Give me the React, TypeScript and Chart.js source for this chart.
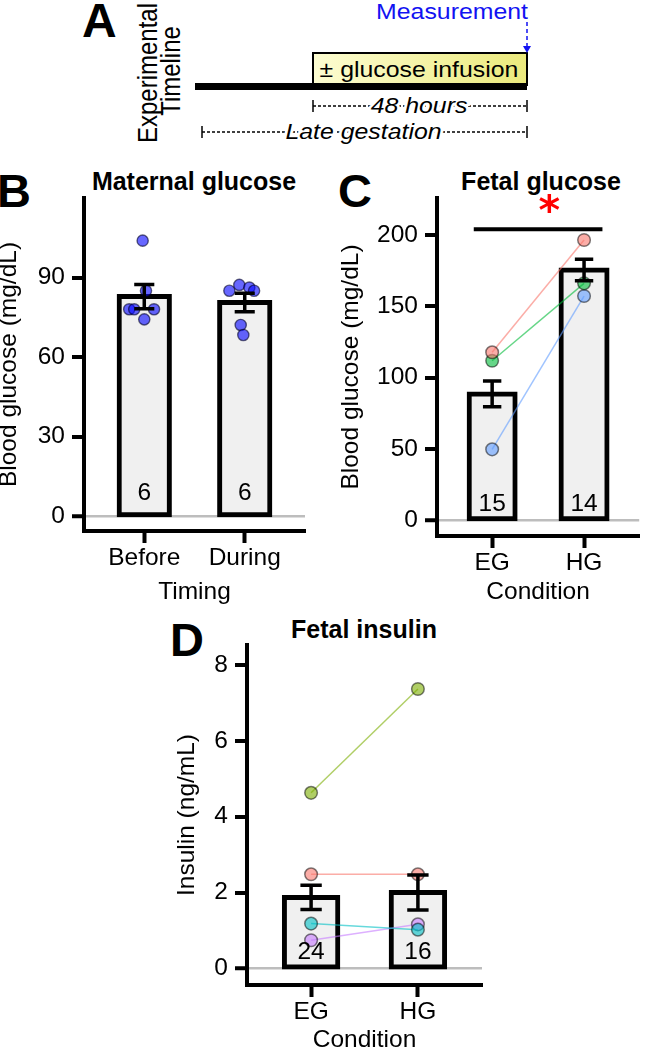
import React, { useEffect, useRef } from 'react';
import { Chart, registerables } from 'chart.js';

Chart.register(...registerables);

const FONT = "'Liberation Sans', Arial, Helvetica, sans-serif";
Chart.defaults.font.family = FONT;
Chart.defaults.color = '#000';

// ---------- Panel B: Maternal glucose ----------
const bCategories = ['Before', 'During'];
const bMeans = [82.8, 80.6];
const bSE = [4.6, 3.5];
const bN = ['6', '6'];
const bBeforeValues = [103.9, 85.0, 78.0, 78.0, 78.0, 74.2];
const bBeforeJitter = [-0.016, 0.017, -0.15, -0.1, 0.097, 0.0];
const bDuringValues = [85.0, 87.2, 86.2, 85.0, 72.1, 68.3];
const bDuringJitter = [-0.153, -0.054, 0.046, 0.093, -0.04, -0.014];
const bYTicks = [0, 30, 60, 90];

// ---------- Panel C: Fetal glucose ----------
const cCategories = ['EG', 'HG'];
const cMeans = [88.5, 175.5];
const cSE = [9.1, 7.5];
const cN = ['15', '14'];
const cPink = [117.7, 196.5];
const cGreen = [111.8, 166.1];
const cBlue = [49.6, 157.2];
const cYTicks = [0, 50, 100, 150, 200];

// ---------- Panel D: Fetal insulin ----------
const dCategories = ['EG', 'HG'];
const dMeans = [1.87, 2.0];
const dSE = [0.32, 0.46];
const dN = ['24', '16'];
const dGreen = [4.63, 7.37];
const dPink = [2.48, 2.48];
const dTeal = [1.18, 1.02];
const dPurple = [0.74, 1.16];
const dYTicks = [0, 2, 4, 6, 8];

const AXIS_FONT = { size: 24.5, family: FONT, lineHeight: 1.2 };

type Sig = { from: number; to: number; y: number; starX: number; starY: number };

type Spec = {
  categories: string[];
  means: number[];
  se: number[];
  n: string[];
  yMin: number;
  yMax: number;
  yTicks: number[];
  yTitle: string;
  xTitle: string;
  extra: any[];
  yAxisWidth: number;
  xAxisHeight: number;
  padTop: number;
  padRight: number;
  yTitlePad: number;
  xTitlePad: number;
  nOffset: number;
  sig?: Sig;
};

function subject(values: number[], rgb: string) {
  return {
    type: 'line',
    data: values.map((v, i) => ({ x: i + 1, y: v })),
    borderColor: `rgba(${rgb},0.6)`,
    borderWidth: 1.5,
    pointRadius: 6.3,
    pointBackgroundColor: `rgba(${rgb},0.6)`,
    pointBorderColor: 'rgba(0,0,0,0.5)',
    pointBorderWidth: 1.5,
    fill: false,
    order: 1,
  };
}

function jittered(values: number[], jitter: number[], cat: number) {
  return {
    type: 'scatter',
    data: values.map((v, i) => ({ x: cat + jitter[i], y: v })),
    pointRadius: 5.6,
    backgroundColor: 'rgba(10,10,255,0.62)',
    borderColor: 'rgba(0,0,40,0.6)',
    borderWidth: 1.4,
    order: 1,
  };
}

function buildConfig(s: Spec): any {
  const overlay = {
    id: 'overlay',
    afterDatasetsDraw(chart: any) {
      const { ctx } = chart;
      const x = chart.scales.x;
      const y = chart.scales.y;
      ctx.save();
      // error bars
      ctx.strokeStyle = '#000';
      ctx.lineWidth = 3.5;
      ctx.lineCap = 'butt';
      s.means.forEach((m, i) => {
        const cx = x.getPixelForValue(i + 1);
        const hw = x.getPixelForValue(i + 1.1) - cx;
        const yt = y.getPixelForValue(m + s.se[i]);
        const yb = y.getPixelForValue(m - s.se[i]);
        ctx.beginPath();
        ctx.moveTo(cx, yt);
        ctx.lineTo(cx, yb);
        ctx.moveTo(cx - hw, yt);
        ctx.lineTo(cx + hw, yt);
        ctx.moveTo(cx - hw, yb);
        ctx.lineTo(cx + hw, yb);
        ctx.stroke();
      });
      // n labels
      ctx.fillStyle = '#000';
      ctx.font = `24.5px ${FONT}`;
      ctx.textAlign = 'center';
      ctx.textBaseline = 'middle';
      s.n.forEach((t, i) => {
        ctx.fillText(t, x.getPixelForValue(i + 1), y.getPixelForValue(0) - s.nOffset);
      });
      // significance bar and asterisk
      if (s.sig) {
        const sg = s.sig;
        ctx.lineWidth = 4;
        ctx.beginPath();
        const sy = y.getPixelForValue(sg.y);
        ctx.moveTo(x.getPixelForValue(sg.from), sy);
        ctx.lineTo(x.getPixelForValue(sg.to), sy);
        ctx.stroke();
        const fam = "'DejaVu Sans'";
        ctx.font = `bold 60px ${fam}`;
        const m1 = ctx.measureText('*');
        const h1 = m1.actualBoundingBoxAscent + m1.actualBoundingBoxDescent;
        const size = 60 * (20 / h1);
        ctx.font = `bold ${size}px ${fam}`;
        const m2 = ctx.measureText('*');
        const cx = x.getPixelForValue(sg.starX);
        const cy = y.getPixelForValue(sg.starY);
        ctx.textAlign = 'left';
        ctx.textBaseline = 'alphabetic';
        ctx.fillStyle = '#ff0000';
        const tx = cx + (m2.actualBoundingBoxLeft - m2.actualBoundingBoxRight) / 2;
        const ty = cy + (m2.actualBoundingBoxAscent - m2.actualBoundingBoxDescent) / 2;
        ctx.fillText('*', tx, ty);
      }
      ctx.restore();
    },
  };

  return {
    type: 'bar',
    data: {
      datasets: [
        {
          type: 'bar',
          data: s.means.map((m, i) => ({ x: i + 1, y: m })),
          backgroundColor: '#f0f0f0',
          borderColor: '#000',
          borderWidth: 5,
          borderSkipped: false,
          inflateAmount: 2.5,
          barPercentage: 0.5,
          categoryPercentage: 1,
          order: 10,
        },
        ...s.extra,
      ],
    },
    options: {
      responsive: false,
      maintainAspectRatio: false,
      animation: false,
      events: [],
      layout: { padding: { top: s.padTop, right: s.padRight, left: 0, bottom: 0 } },
      plugins: { legend: { display: false }, tooltip: { enabled: false }, title: { display: false } },
      scales: {
        x: {
          type: 'linear',
          min: 0.4,
          max: 2.6,
          offset: false,
          afterBuildTicks: (ax: any) => {
            ax.ticks = s.categories.map((_, i) => ({ value: i + 1 }));
          },
          afterFit: (ax: any) => {
            ax.height = s.xAxisHeight;
          },
          ticks: {
            autoSkip: false,
            maxRotation: 0,
            padding: 1,
            color: '#000',
            font: AXIS_FONT,
            callback: (v: number) => s.categories[Math.round(v) - 1] ?? '',
          },
          grid: {
            display: true,
            drawOnChartArea: false,
            drawTicks: true,
            tickLength: 12,
            tickWidth: 4,
            tickColor: '#000',
            offset: false,
          },
          border: { display: true, color: '#000', width: 4 },
          title: { display: true, text: s.xTitle, color: '#000', font: AXIS_FONT, padding: { top: 0, bottom: s.xTitlePad } },
        },
        y: {
          type: 'linear',
          min: s.yMin,
          max: s.yMax,
          afterBuildTicks: (ax: any) => {
            ax.ticks = s.yTicks.map((v) => ({ value: v }));
          },
          afterFit: (ax: any) => {
            ax.width = s.yAxisWidth;
          },
          ticks: { padding: 7, color: '#000', font: AXIS_FONT, callback: (v: number) => String(v) },
          grid: {
            display: true,
            drawOnChartArea: true,
            color: (c: any) => (c.tick && c.tick.value === 0 ? '#bdbdbd' : 'rgba(0,0,0,0)'),
            lineWidth: (c: any) => (c.tick && c.tick.value === 0 ? 2.5 : 0),
            drawTicks: true,
            tickLength: 12,
            tickWidth: 4,
            tickColor: '#000',
          },
          border: { display: true, color: '#000', width: 4 },
          title: { display: true, text: s.yTitle, color: '#000', font: AXIS_FONT, padding: { top: s.yTitlePad, bottom: 0 } },
        },
      },
    },
    plugins: [overlay],
  };
}

const specB: Spec = {
  categories: bCategories,
  means: bMeans,
  se: bSE,
  n: bN,
  yMin: -5.66,
  yMax: 120,
  yTicks: bYTicks,
  yTitle: 'Blood glucose (mg/dL)',
  xTitle: 'Timing',
  extra: [jittered(bBeforeValues, bBeforeJitter, 1), jittered(bDuringValues, bDuringJitter, 2)],
  yAxisWidth: 84,
  xAxisHeight: 79,
  padTop: 38,
  padRight: 15,
  yTitlePad: -5.3,
  xTitlePad: 3.3,
  nOffset: 22.5,
};

const specC: Spec = {
  categories: cCategories,
  means: cMeans,
  se: cSE,
  n: cN,
  yMin: -11.23,
  yMax: 226,
  yTicks: cYTicks,
  yTitle: 'Blood glucose (mg/dL)',
  xTitle: 'Condition',
  extra: [subject(cPink, '248,118,109'), subject(cGreen, '0,186,56'), subject(cBlue, '97,156,255')],
  yAxisWidth: 117,
  xAxisHeight: 74,
  padTop: 38,
  padRight: 0,
  yTitlePad: 16.4,
  xTitlePad: 2.8,
  nOffset: 16,
  sig: { from: 0.8, to: 2.2, y: 204, starX: 1.5, starY: 214.7 },
};

const specD: Spec = {
  categories: dCategories,
  means: dMeans,
  se: dSE,
  n: dN,
  yMin: -0.44,
  yMax: 8.53,
  yTicks: dYTicks,
  yTitle: 'Insulin (ng/mL)',
  xTitle: 'Condition',
  extra: [
    subject(dGreen, '124,174,0'),
    subject(dPink, '248,118,109'),
    subject(dTeal, '0,191,196'),
    subject(dPurple, '199,124,255'),
  ],
  yAxisWidth: 87,
  xAxisHeight: 65,
  padTop: 35,
  padRight: 8,
  yTitlePad: 13,
  xTitlePad: -4.7,
  nOffset: 16,
};

function Panel({ left, top, width, height, spec }: { left: number; top: number; width: number; height: number; spec: Spec }) {
  const ref = useRef<HTMLCanvasElement>(null);
  useEffect(() => {
    const chart = new Chart(ref.current as HTMLCanvasElement, buildConfig(spec));
    return () => chart.destroy();
  }, []);
  return (
    <canvas
      ref={ref}
      width={width}
      height={height}
      style={{ position: 'absolute', left, top, width, height, zIndex: 2 }}
    />
  );
}

function Annotations() {
  const t = { fontFamily: FONT, fill: '#000' } as any;
  const blue = '#1212f2';
  return (
    <svg width={647} height={1050} style={{ position: 'absolute', left: 0, top: 0, zIndex: 1 }}>
      <defs>
        <linearGradient id="yg" x1="0" x2="1" y1="0" y2="0">
          <stop offset="0" stopColor="#fdfdd2" />
          <stop offset="1" stopColor="#ebe97c" />
        </linearGradient>
      </defs>
      {/* panel letters */}
      <text x={82} y={37} fontSize={48} fontWeight="bold" {...t}>A</text>
      <text x={-3} y={207} fontSize={47} fontWeight="bold" {...t}>B</text>
      <text x={338} y={207} fontSize={47} fontWeight="bold" {...t}>C</text>
      <text x={170} y={656} fontSize={47} fontWeight="bold" {...t}>D</text>
      {/* panel titles */}
      <text x={194} y={190} fontSize={25} fontWeight="bold" textAnchor="middle" {...t}>Maternal glucose</text>
      <text x={541} y={190} fontSize={25} fontWeight="bold" textAnchor="middle" {...t}>Fetal glucose</text>
      <text x={364} y={638} fontSize={25} fontWeight="bold" textAnchor="middle" {...t}>Fetal insulin</text>
      {/* timeline */}
      <text transform="translate(157,73) scale(1.13,1) rotate(-90)" fontSize={24} textAnchor="middle" {...t}>Experimental</text>
      <text transform="translate(179.5,71) scale(1.13,1) rotate(-90)" fontSize={24} textAnchor="middle" {...t}>Timeline</text>
      <rect x={313} y={53} width={214} height={32} fill="url(#yg)" stroke="#000" strokeWidth={2} />
      <text transform="translate(419,77) scale(1.13,1)" fontSize={22} textAnchor="middle" {...t}>± glucose infusion</text>
      <line x1={195} x2={527} y1={86.5} y2={86.5} stroke="#000" strokeWidth={7} />
      <text transform="translate(528,19) scale(1.13,1)" fontSize={22} textAnchor="end" fontFamily={FONT} fill={blue}>Measurement</text>
      <line x1={527} x2={527} y1={22} y2={47} stroke={blue} strokeWidth={1.5} strokeDasharray="4 3" />
      <polygon points="523,46 531,46 527,53" fill={blue} />
      {/* 48 hours */}
      <line x1={313} x2={527} y1={106} y2={106} stroke="#000" strokeWidth={1.3} strokeDasharray="3 2" />
      <line x1={313} x2={313} y1={100} y2={112} stroke="#000" strokeWidth={1.5} />
      <line x1={527} x2={527} y1={100} y2={112} stroke="#000" strokeWidth={1.5} />
      <text transform="translate(419,113) scale(1.13,1)" fontSize={22} fontStyle="italic" textAnchor="middle" stroke="#fff" strokeWidth={5} paintOrder="stroke" {...t}>48 hours</text>
      {/* late gestation */}
      <line x1={202} x2={527} y1={132} y2={132} stroke="#000" strokeWidth={1.3} strokeDasharray="3 2" />
      <line x1={202} x2={202} y1={126} y2={138} stroke="#000" strokeWidth={1.5} />
      <line x1={527} x2={527} y1={126} y2={138} stroke="#000" strokeWidth={1.5} />
      <text transform="translate(363.5,138.5) scale(1.13,1)" fontSize={22} fontStyle="italic" textAnchor="middle" stroke="#fff" strokeWidth={5} paintOrder="stroke" {...t}>Late gestation</text>
    </svg>
  );
}

export default function App() {
  return (
    <div style={{ position: 'absolute', left: 0, top: 0, width: 647, height: 1050, overflow: 'hidden', background: '#fff' }}>
      <Annotations />
      <Panel left={0} top={160} width={320} height={450} spec={specB} />
      <Panel left={320} top={160} width={327} height={450} spec={specC} />
      <Panel left={160} top={610} width={330} height={440} spec={specD} />
    </div>
  );
}
